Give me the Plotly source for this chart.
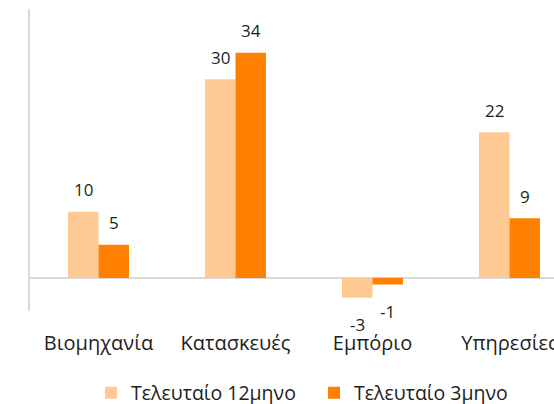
import plotly.graph_objects as go

categories = ["Βιομηχανία", "Κατασκευές", "Εμπόριο", "Υπηρεσίες"]
series_names = ["Τελευταίο 12μηνο", "Τελευταίο 3μηνο"]
values_12m = [10, 30, -3, 22]
values_3m = [5, 34, -1, 9]
colors = ["#FFC994", "#FF8000"]

FONT = "Open Sans, Noto Sans, sans-serif"
TXT = "#1e1e1e"

fig = go.Figure()
for name, vals, col in zip(series_names, [values_12m, values_3m], colors):
    fig.add_trace(go.Bar(x=categories, y=vals, name=name, marker=dict(color=col, line=dict(width=0))))

# data labels
for i, vals in enumerate([values_12m, values_3m]):
    xs = -15.3 if i == 0 else 15.3
    for c, v in zip(categories, vals):
        fig.add_annotation(x=c, y=v, xref="x", yref="y", text=str(v), showarrow=False,
                           xshift=xs, yshift=22 if v >= 0 else -27,
                           font=dict(family=FONT, size=17, color=TXT))

fig.update_layout(
    width=554, height=404,
    margin=dict(l=30, r=0, t=9, b=93, autoexpand=False),
    paper_bgcolor="white", plot_bgcolor="white",
    barmode="group", bargap=0.555, bargroupgap=0,
    showlegend=True,
    legend=dict(orientation="h", xref="container", yref="container",
                x=0.1643, xanchor="left", y=0.0272, yanchor="middle",
                font=dict(family=FONT, size=19.5, color=TXT), itemwidth=30,
                entrywidth=178, entrywidthmode="pixels",
                traceorder="normal"),
    font=dict(family=FONT, color=TXT),
)
fig.update_xaxes(range=[-0.5, 3.325], showline=False, showgrid=False, zeroline=False,
                 ticks="outside", ticklen=14, tickcolor="rgba(0,0,0,0)",
                 tickfont=dict(family=FONT, size=20, color=TXT))
fig.update_yaxes(range=[-5, 40.6], showline=True, linecolor="#D9D9D9", linewidth=2,
                 showgrid=False, showticklabels=False, ticks="",
                 zeroline=True, zerolinecolor="#D9D9D9", zerolinewidth=1.5)

fig.write_html("out.html", config={"displayModeBar": False},
               post_script="document.body.style.margin='0';document.body.style.overflow='hidden';")
